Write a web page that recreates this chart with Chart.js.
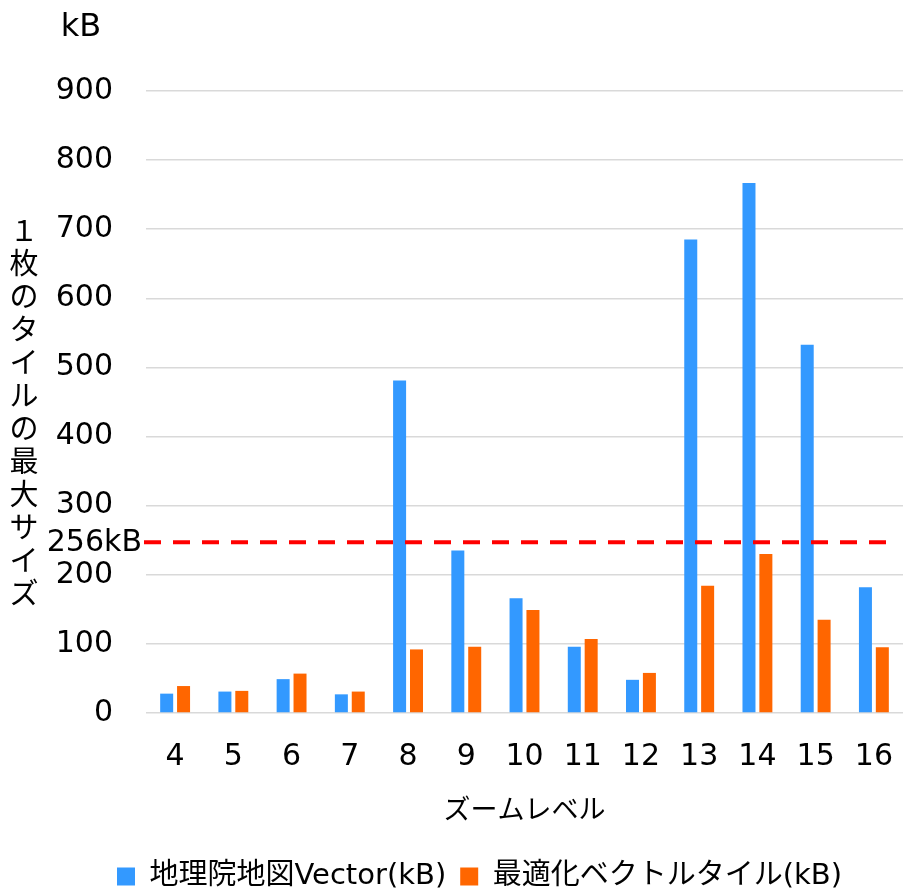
<!DOCTYPE html>
<html lang="ja">
<head>
<meta charset="UTF-8">
<title>ズームレベル別 タイルの最大サイズ</title>
<script src="https://cdn.jsdelivr.net/npm/chart.js@4"></script>
<style>
  html, body { margin: 0; padding: 0; background: #fff; }
  #wrap { width: 903px; height: 894px; }
</style>
</head>
<body>
<div id="wrap"><canvas id="chart-tiles" width="903" height="894"></canvas></div>
<script>
// =============================================
// Dados
// =============================================

const zoomLevels = ['4', '5', '6', '7', '8', '9', '10', '11', '12', '13', '14', '15', '16'];
const gsiVector = [28, 31, 49, 27, 481, 235, 166, 96, 48, 685, 767, 533, 182];
const optimizedTiles = [39, 32, 57, 31, 92, 96, 149, 107, 58, 184, 230, 135, 95];
const limitValue = 247;
const limitLabel = '256kB';
const yTitleChars = ['１', '枚', 'の', 'タ', 'イ', 'ル', 'の', '最', '大', 'サ', 'イ', 'ズ'];

const FONT = '"DejaVu Sans", "Noto Sans CJK JP", sans-serif';
const CJK = '"Noto Sans CJK JP", sans-serif';

// =============================================
// Linha tracejada + textos extras
// =============================================

const extrasPlugin = {
  id: 'extras',
  afterDatasetsDraw(chart) {
    const { ctx, chartArea, scales } = chart;
    const y = scales.y.getPixelForValue(limitValue);

    ctx.save();
    ctx.strokeStyle = '#ff0000';
    ctx.lineWidth = 4;
    ctx.setLineDash([17, 12]);
    ctx.beginPath();
    ctx.moveTo(chartArea.left - 2, y);
    ctx.lineTo(chartArea.right - 12, y);
    ctx.stroke();
    ctx.setLineDash([]);

    ctx.fillStyle = '#000';
    ctx.font = '30px ' + FONT;
    ctx.textAlign = 'right';
    ctx.textBaseline = 'middle';
    ctx.fillText(limitLabel, chartArea.left - 4, y + 1);

    // unidade no topo
    ctx.textAlign = 'center';
    ctx.font = '32px ' + FONT;
    ctx.fillText('kB', 81, 28);

    // título vertical
    ctx.font = '29px ' + CJK;
    const midY = (chartArea.top + chartArea.bottom) / 2 + 9;
    yTitleChars.forEach((ch, i) => {
      ctx.fillText(ch, 24, midY + (i - (yTitleChars.length - 1) / 2) * 33);
    });
    ctx.restore();
  }
};

// =============================================
// Gráfico
// =============================================

const ctx = document.getElementById('chart-tiles');

new Chart(ctx, {
  type: 'bar',
  data: {
    labels: zoomLevels,
    datasets: [
      {
        label: '地理院地図Vector(kB)',
        data: gsiVector,
        backgroundColor: '#3399ff',
        borderWidth: 0,
      },
      {
        label: '最適化ベクトルタイル(kB)',
        data: optimizedTiles,
        backgroundColor: '#ff6600',
        borderWidth: 0,
      }
    ]
  },
  options: {
    responsive: false,
    animation: false,
    devicePixelRatio: 1,
    categoryPercentage: 0.58,
    barPercentage: 0.77,
    layout: { padding: { top: 91, left: 56, right: 0, bottom: -7 } },
    plugins: {
      legend: {
        position: 'bottom',
        labels: {
          color: '#000',
          boxWidth: 18,
          boxHeight: 18,
          padding: 14,
          font: { family: FONT, size: 29 },
        }
      },
      tooltip: { enabled: false },
    },
    scales: {
      x: {
        grid: { display: false },
        border: { display: false },
        ticks: { color: '#000', padding: 18, font: { family: FONT, size: 30 } },
        title: {
          display: true,
          text: 'ズームレベル',
          color: '#000',
          padding: { top: 16, bottom: 23 },
          font: { family: CJK, size: 27 },
        },
        afterFit(scale) {
          scale.height = 135;
          scale.paddingLeft = 0;
          scale.paddingRight = 0;
        },
      },
      y: {
        min: 0,
        max: 900,
        grid: { color: '#d9d9d9', lineWidth: 1.5, drawTicks: false },
        border: { display: false },
        ticks: {
          stepSize: 100,
          color: '#000',
          padding: 33,
          font: { family: FONT, size: 30 },
        },
        afterFit(scale) {
          scale.width = 90;
        },
      }
    }
  },
  plugins: [extrasPlugin]
});
</script>
</body>
</html>
